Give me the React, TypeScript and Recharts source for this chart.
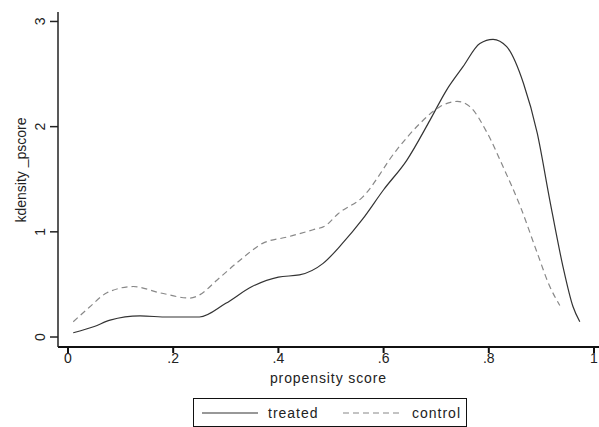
import React from "react";
import { LineChart, Line, XAxis, YAxis, Legend } from "recharts";

const treatedX = [0.01, 0.05, 0.08, 0.137, 0.19, 0.25, 0.3, 0.35, 0.4, 0.44, 0.485, 0.52, 0.56, 0.6, 0.644, 0.688, 0.72, 0.751, 0.783, 0.808, 0.834, 0.866, 0.892, 0.916, 0.941, 0.96, 0.973];
const treatedY = [0.04, 0.1, 0.16, 0.2, 0.19, 0.19, 0.32, 0.48, 0.57, 0.59, 0.7, 0.88, 1.12, 1.4, 1.68, 2.06, 2.35, 2.57, 2.79, 2.83, 2.76, 2.41, 1.94, 1.3, 0.67, 0.29, 0.145];

const controlX = [0.01, 0.04, 0.074, 0.124, 0.175, 0.232, 0.25, 0.283, 0.327, 0.37, 0.416, 0.466, 0.49, 0.513, 0.56, 0.625, 0.669, 0.707, 0.74, 0.764, 0.797, 0.827, 0.86, 0.892, 0.916, 0.935];
const controlY = [0.145, 0.28, 0.42, 0.48, 0.42, 0.37, 0.4, 0.54, 0.73, 0.89, 0.95, 1.02, 1.06, 1.17, 1.33, 1.78, 2.03, 2.19, 2.24, 2.19, 1.94, 1.62, 1.24, 0.8, 0.48, 0.3];

const xTicks = [0, 0.2, 0.4, 0.6, 0.8, 1];
const yTicks = [0, 1, 2, 3];

const treated = treatedX.map((x, i) => ({ x, y: treatedY[i] }));
const control = controlX.map((x, i) => ({ x, y: controlY[i] }));

const FONT = "'Liberation Sans', Arial, sans-serif";

const fmtX = (v: number) => (v === 0 || v === 1 ? String(v) : String(v).replace("0.", "."));

const YTick = (props: any) => {
  const { y, payload } = props;
  return (
    <text
      x={45}
      y={y}
      transform={`rotate(-90, 45, ${y})`}
      textAnchor="middle"
      fontSize={14}
      fontFamily={FONT}
      fill="#222"
    >
      {payload.value}
    </text>
  );
};

// rotated y title, baseline just left of the tick labels
const YTitle = () => (
  <text
    x={26}
    y={170}
    transform="rotate(-90, 26, 170)"
    textAnchor="middle"
    fontSize={14}
    fontFamily={FONT}
    fill="#222"
  >
    kdensity _pscore
  </text>
);

const LegendBox = () => (
  <svg width={274} height={29}>
    <rect x={0.5} y={0.5} width={273} height={28} fill="#fff" stroke="#111" strokeWidth={1} />
    <line x1={9} y1={15} x2={65} y2={15} stroke="#333" strokeWidth={1.2} />
    <text x={75} y={20} fontSize={14} letterSpacing={1} fontFamily={FONT} fill="#222">treated</text>
    <line x1={150} y1={15} x2={209} y2={15} stroke="#888" strokeWidth={1.2} strokeDasharray="6 4" />
    <text x={219} y={20} fontSize={14} letterSpacing={1} fontFamily={FONT} fill="#222">control</text>
  </svg>
);

export default function App() {
  return (
    <div style={{ position: "absolute", left: 0, top: 0 }}>
      <LineChart width={599} height={427} margin={{ top: 12, right: 0, left: 0, bottom: 44 }}>
        <XAxis
          xAxisId="top"
          orientation="top"
          type="number"
          dataKey="x"
          domain={[-0.019, 1.0095]}
          allowDataOverflow
          height={0}
          tick={false}
          tickLine={false}
          stroke="#333"
          strokeWidth={1.5}
        />
        <XAxis
          type="number"
          dataKey="x"
          domain={[-0.019, 1.0095]}
          allowDataOverflow
          ticks={xTicks}
          tickFormatter={fmtX}
          height={36}
          tickSize={6}
          tickMargin={0}
          stroke="#111"
          strokeWidth={2}
          tick={{ fill: "#222", fontSize: 14, fontFamily: FONT }}
          label={{
            value: "propensity score",
            position: "insideBottom",
            offset: 0,
            fill: "#222",
            fontSize: 14,
            letterSpacing: 0.9,
            fontFamily: FONT,
          }}
        />
        <YAxis
          type="number"
          domain={[-0.095, 3.09]}
          allowDataOverflow
          ticks={yTicks}
          width={58}
          tickSize={8}
          stroke="#222"
          strokeWidth={1.5}
          tick={<YTick />}
          label={<YTitle />}
        />
        <Line
          data={treated}
          dataKey="y"
          name="treated"
          type="monotone"
          stroke="#333"
          strokeWidth={1.2}
          dot={false}
          isAnimationActive={false}
        />
        <Line
          data={control}
          dataKey="y"
          name="control"
          type="monotone"
          stroke="#888"
          strokeWidth={1.2}
          strokeDasharray="6 4"
          dot={false}
          isAnimationActive={false}
        />
        <Legend
          layout="horizontal"
          verticalAlign="middle"
          content={<LegendBox />}
          wrapperStyle={{ left: 193, top: 398, width: 274, height: 29 }}
        />
      </LineChart>
    </div>
  );
}
